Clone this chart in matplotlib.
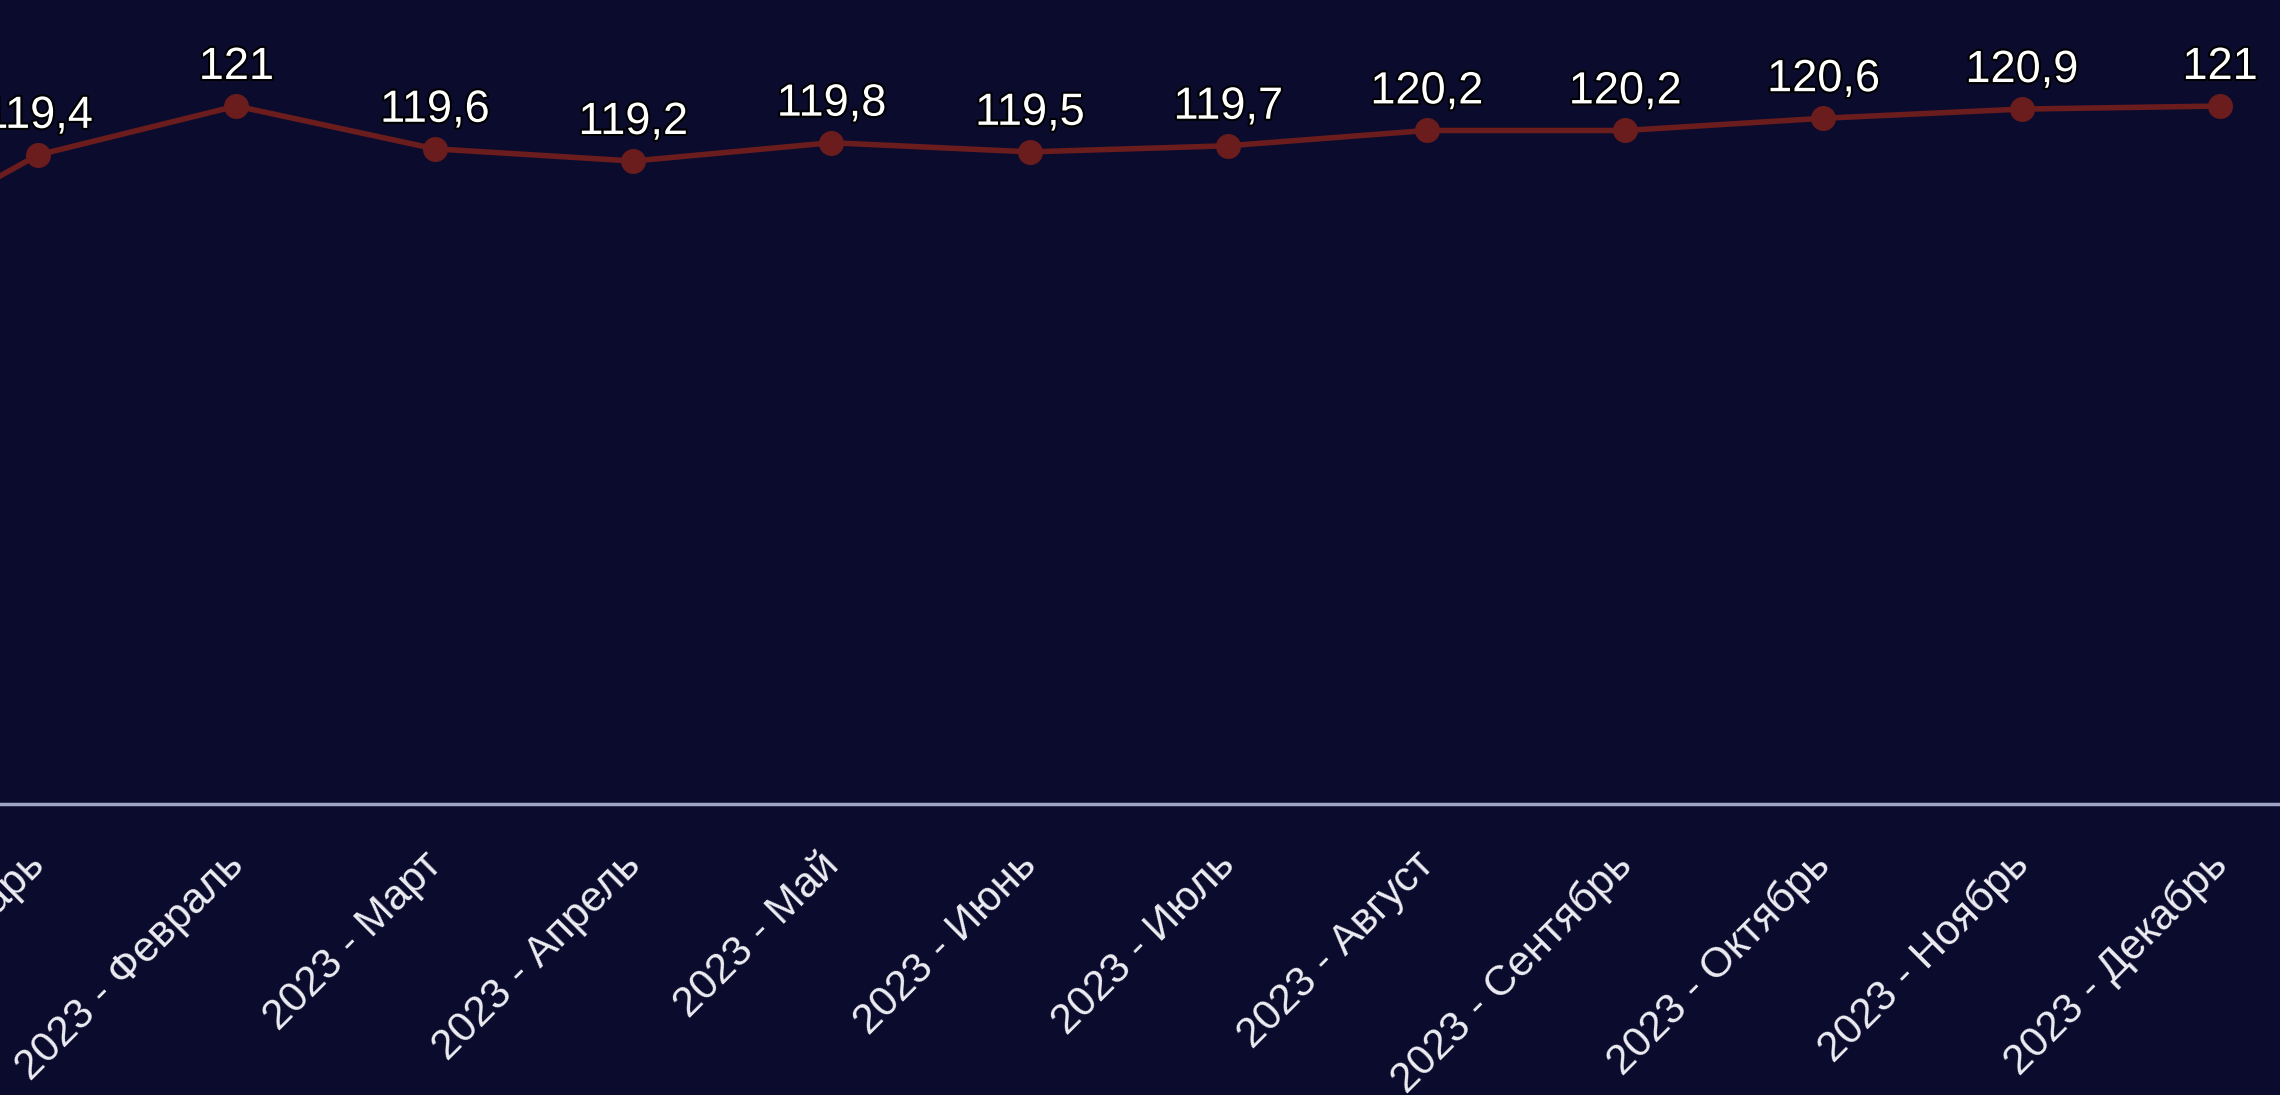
import matplotlib
matplotlib.use("Agg")
import matplotlib.pyplot as plt
import matplotlib.patheffects as pe
from matplotlib.transforms import ScaledTranslation

plt.rcParams['font.family'] = ['Liberation Sans', 'DejaVu Sans']

# ---- data ----
categories = ["2022 - Декабрь", "2023 - Январь", "2023 - Февраль", "2023 - Март",
              "2023 - Апрель", "2023 - Май", "2023 - Июнь", "2023 - Июль",
              "2023 - Август", "2023 - Сентябрь", "2023 - Октябрь",
              "2023 - Ноябрь", "2023 - Декабрь"]
values = [115.8, 119.4, 121.0, 119.6, 119.2, 119.8, 119.5, 119.7,
          120.2, 120.2, 120.6, 120.9, 121.0]
value_labels = ["115,8", "119,4", "121", "119,6", "119,2", "119,8", "119,5",
                "119,7", "120,2", "120,2", "120,6", "120,9", "121"]

BG = "#0b0b2d"
LINE = "#6b1c1c"

fig = plt.figure(figsize=(22.8, 10.95), dpi=100, facecolor=BG)
ax = fig.add_axes([0.0, 1 - 804 / 1095, 1.0, 804 / 1095])
ax.set_facecolor(BG)

x = [i - 1 for i in range(len(categories))]  # Январь 2023 at 0
ax.plot(x, values, color=LINE, lw=4.0, marker="o", markersize=17,
        markerfacecolor=LINE, markeredgecolor=LINE, zorder=3, clip_on=False)

for xi, v, lab in zip(x, values, value_labels):
    ax.annotate(lab, (xi, v), xytext=(0, 13), textcoords="offset points",
                ha="center", va="bottom", fontsize=32.5, color="white",
                annotation_clip=False,
                path_effects=[pe.withStroke(linewidth=3, foreground="#000000")])

for s in ["top", "right", "left"]:
    ax.spines[s].set_visible(False)
ax.spines["bottom"].set_color("#a0a6c6")
ax.spines["bottom"].set_linewidth(2.5)
ax.set_yticks([])

ax.set_xticks(x)
ax.set_xticklabels(categories, rotation=45, ha="right", va="center",
                   rotation_mode="anchor", fontsize=30.5, color="#ececf2")
ax.tick_params(axis="x", length=0, pad=0)
off = ScaledTranslation(0.01, -0.55, fig.dpi_scale_trans)
for lbl in ax.get_xticklabels():
    lbl.set_transform(lbl.get_transform() + off)

ax.set_xlim(-0.1916, 11.302)
ax.set_ylim(98.16, 124.47)

fig.savefig("out.png", dpi=100, facecolor=BG)
